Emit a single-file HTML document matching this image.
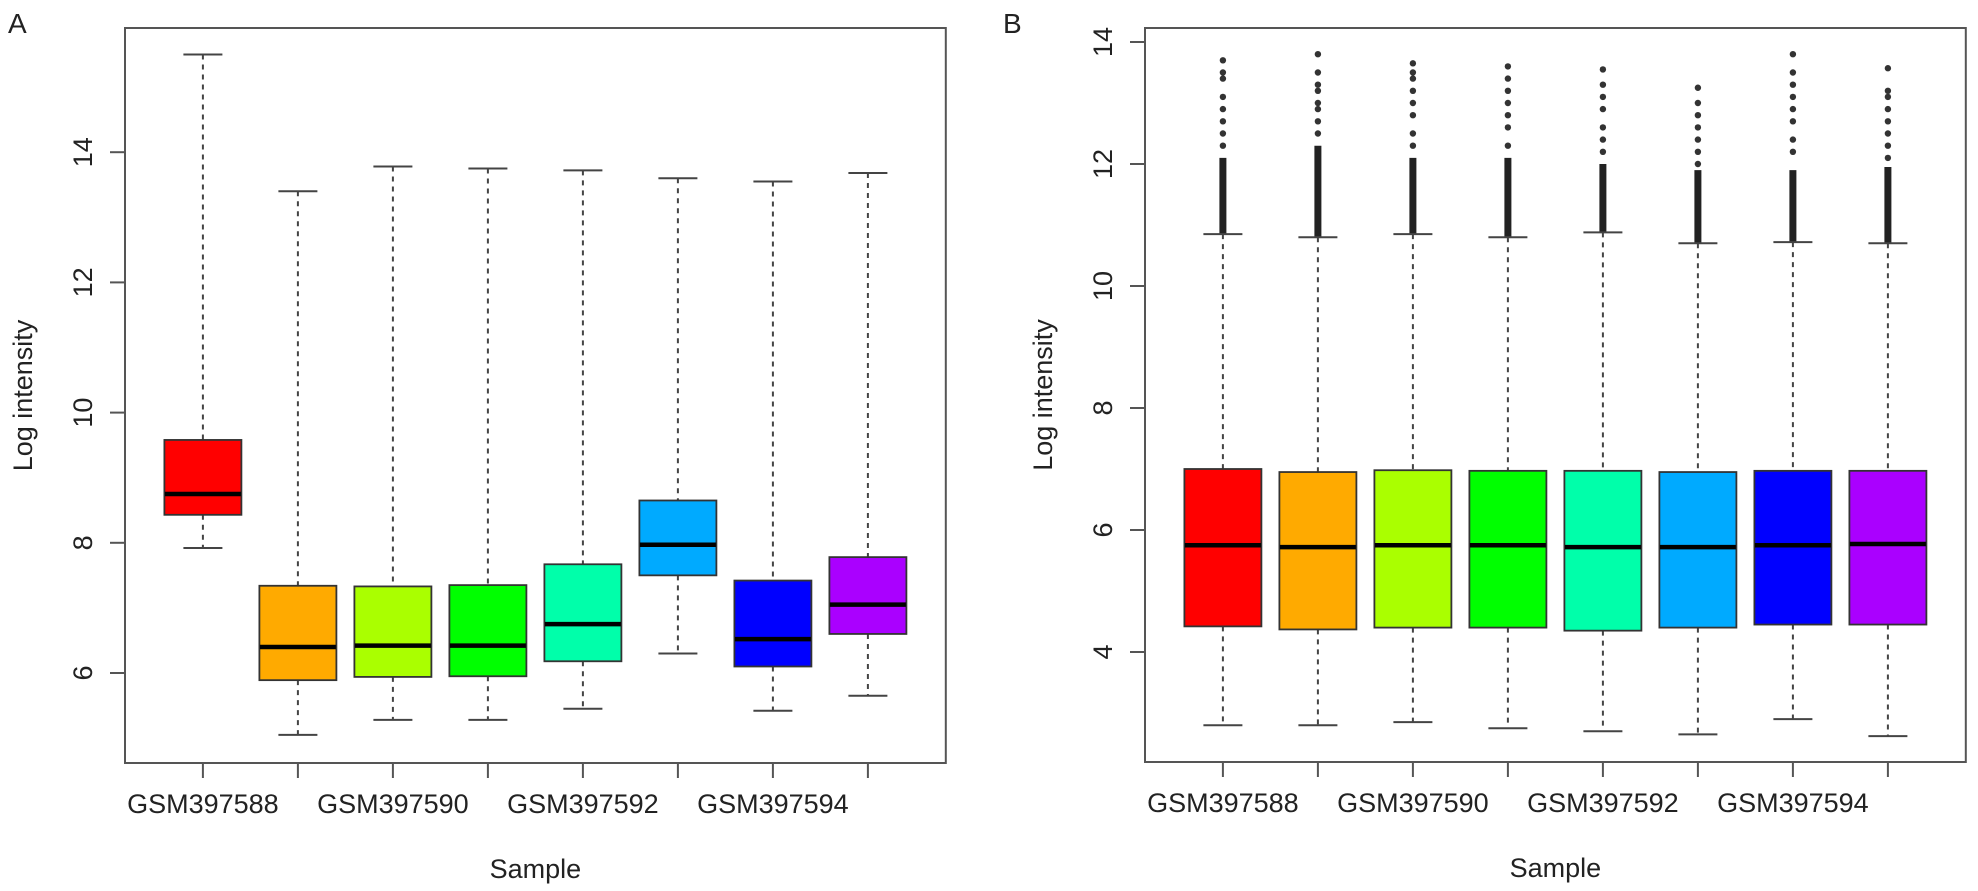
<!DOCTYPE html>
<html><head><meta charset="utf-8"><style>
html,body{margin:0;padding:0;background:#fff;}
svg{display:block;font-family:"Liberation Sans",Arial,sans-serif;}
</style></head><body>
<svg id="chart" width="1978" height="891" viewBox="0 0 1978 891" xmlns="http://www.w3.org/2000/svg">
<text x="8" y="33" font-size="28" fill="#222">A</text>
<text x="1003" y="33" font-size="28" fill="#222">B</text>
<g id="pa"></g>
<g id="pb"></g>
</svg>
<script>
const samples = ["GSM397588","GSM397589","GSM397590","GSM397591","GSM397592","GSM397593","GSM397594","GSM397595"];
const colors = ["#ff0000","#ffaa00","#aaff00","#00ff00","#00ffaa","#00aaff","#0000ff","#aa00ff"];
// Panel A (raw)
const aLow = [7.92,5.05,5.28,5.28,5.45,6.30,5.42,5.65];
const aQ1 = [8.43,5.89,5.94,5.95,6.18,7.50,6.10,6.60];
const aMed = [8.75,6.40,6.42,6.42,6.75,7.97,6.52,7.05];
const aQ3 = [9.58,7.34,7.33,7.35,7.67,8.65,7.42,7.78];
const aHigh = [15.5,13.4,13.78,13.75,13.72,13.6,13.55,13.68];
const aTicks = [6,8,10,12,14];
// Panel B (normalized)
const bLow = [2.80,2.80,2.85,2.75,2.70,2.65,2.90,2.62];
const bQ1 = [4.42,4.37,4.40,4.40,4.35,4.40,4.45,4.45];
const bMed = [5.75,5.72,5.75,5.75,5.72,5.72,5.75,5.77];
const bQ3 = [7.00,6.95,6.98,6.97,6.97,6.95,6.97,6.97];
const bHigh = [10.85,10.80,10.85,10.80,10.88,10.70,10.72,10.70];
const bDenseTop = [12.1,12.3,12.1,12.1,12.0,11.9,11.9,11.95];
const bOut1 = [12.3,12.5,12.7,12.9,13.1,13.4,13.5,13.7];
const bOut2 = [12.5,12.7,12.9,13.0,13.2,13.3,13.5,13.8];
const bOut3 = [12.3,12.5,12.8,13.0,13.2,13.4,13.5,13.65];
const bOut4 = [12.3,12.6,12.8,13.0,13.2,13.4,13.6];
const bOut5 = [12.2,12.4,12.6,12.9,13.1,13.3,13.55];
const bOut6 = [12.0,12.2,12.4,12.6,12.8,13.0,13.25];
const bOut7 = [12.2,12.4,12.7,12.9,13.1,13.3,13.5,13.8];
const bOut8 = [12.1,12.3,12.5,12.7,12.9,13.1,13.2,13.57];
const bOutliers = [bOut1,bOut2,bOut3,bOut4,bOut5,bOut6,bOut7,bOut8];
const bTicks = [4,6,8,10,12,14];

const NS="http://www.w3.org/2000/svg";
function mk(parent,tag,attrs,text){const e=document.createElementNS(NS,tag);for(const k in attrs)e.setAttribute(k,attrs[k]);if(text!==undefined)e.textContent=text;parent.appendChild(e);return e;}

function panel(g,cfg){
  const L=cfg.left,T=28,B=cfg.bottom,step=95,x0=cfg.left+0.82*95;
  const xs=i=>x0+i*step;
  const ys=v=>cfg.yRef-(v-cfg.vRef)*cfg.ppu;
  const right=x0+7*step+0.82*95;
  const n=samples.length;
  for(let i=0;i<n;i++){
    const bx=mk(g,'g',{});
    
    
    const c=xs(i);
    if(cfg.dense){
      const dl=mk(bx,'line',{x1:c,x2:c,y1:ys(cfg.high[i]),y2:ys(cfg.dense[i]),stroke:'#222','stroke-width':7});
      
      
      cfg.outs[i].forEach(v=>{
        const p=mk(bx,'circle',{cx:c,cy:ys(v),r:3.2,fill:'#333'});
        
        
      });
    }
    mk(bx,'line',{x1:c,x2:c,y1:ys(cfg.high[i]),y2:ys(cfg.q3[i]),stroke:'#444','stroke-width':2,'stroke-dasharray':'5,5'});
    mk(bx,'line',{x1:c,x2:c,y1:ys(cfg.q1[i]),y2:ys(cfg.low[i]),stroke:'#444','stroke-width':2,'stroke-dasharray':'5,5'});
    mk(bx,'line',{x1:c-19.5,x2:c+19.5,y1:ys(cfg.high[i]),y2:ys(cfg.high[i]),stroke:'#444','stroke-width':2});
    mk(bx,'line',{x1:c-19.5,x2:c+19.5,y1:ys(cfg.low[i]),y2:ys(cfg.low[i]),stroke:'#444','stroke-width':2});
    mk(bx,'rect',{x:c-38.5,y:ys(cfg.q3[i]),width:77,height:ys(cfg.q1[i])-ys(cfg.q3[i]),fill:colors[i],stroke:'#333','stroke-width':1.8});
    const md=mk(bx,'line',{x1:c-38,x2:c+38,y1:ys(cfg.med[i]),y2:ys(cfg.med[i]),stroke:'#000','stroke-width':4.5});
    
    
    const tk=mk(g,'line',{x1:c,x2:c,y1:B,y2:B+15,stroke:'#555','stroke-width':2});
    
    
    if(i%2===0){
      const tl=mk(g,'text',{x:c,y:B+50,'font-size':27,'text-anchor':'middle',fill:'#222'},samples[i]);
      
      
    }
  }
  const fr=mk(g,'rect',{x:L,y:T,width:right-L,height:B-T,fill:'none',stroke:'#555','stroke-width':2});
  
  
  cfg.ticks.forEach(v=>{
    const y=ys(v);
    const t=mk(g,'line',{x1:L-15,x2:L,y1:y,y2:y,stroke:'#555','stroke-width':2});
    
    
    const tl=mk(g,'text',{x:0,y:0,'font-size':27,'text-anchor':'middle',fill:'#222',transform:`translate(${L-33},${y}) rotate(-90)`},String(v));
    
    
  });
  const yt=mk(g,'text',{x:0,y:0,'font-size':27,'text-anchor':'middle',fill:'#222',transform:`translate(${L-93},${(T+B)/2}) rotate(-90)`},'Log intensity');
  
  
  const xt=mk(g,'text',{x:(L+right)/2,y:B+115,'font-size':27,'text-anchor':'middle',fill:'#222'},'Sample');
  
  
}
panel(document.getElementById('pa'),{left:125,bottom:763,yRef:673,vRef:6,ppu:65.1,low:aLow,q1:aQ1,med:aMed,q3:aQ3,high:aHigh,ticks:aTicks});
panel(document.getElementById('pb'),{left:1145,bottom:762,yRef:652,vRef:4,ppu:61,low:bLow,q1:bQ1,med:bMed,q3:bQ3,high:bHigh,ticks:bTicks,dense:bDenseTop,outs:bOutliers});
</script>
</body></html>
